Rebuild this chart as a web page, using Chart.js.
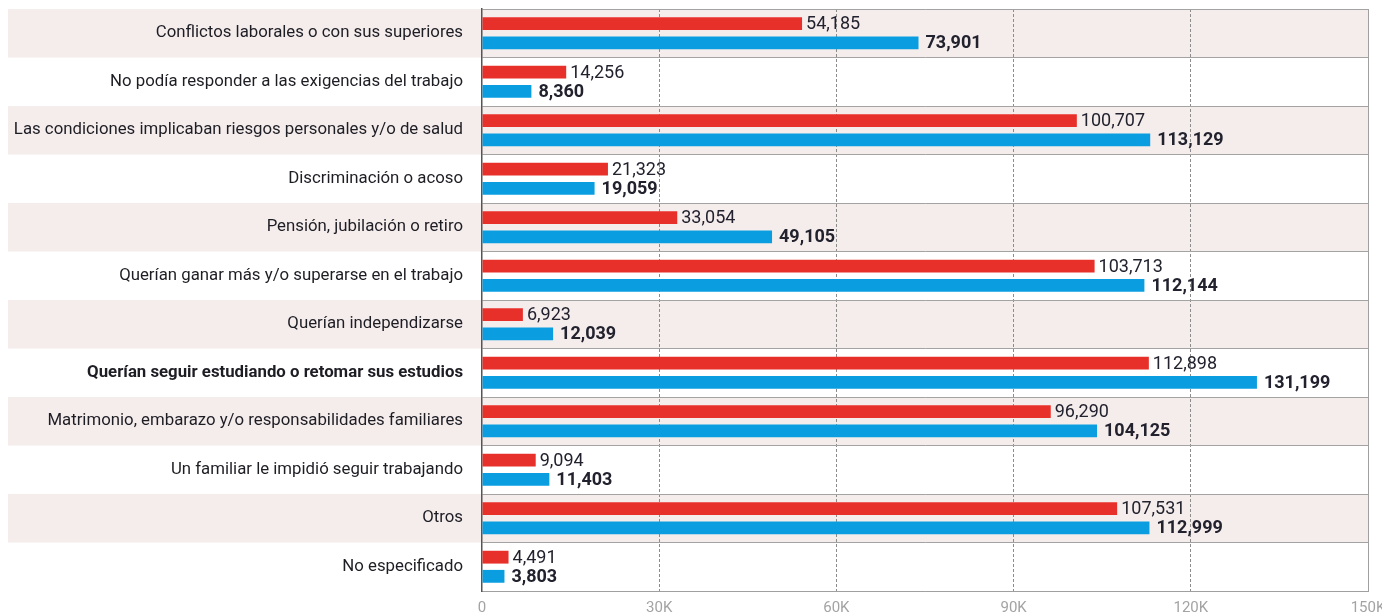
<!DOCTYPE html>
<html>
<head>
<meta charset="utf-8">
<script src="https://cdn.jsdelivr.net/npm/chart.js@4"></script>
<style>
  html, body { margin: 0; padding: 0; background: #fff; }
  #wrap { width: 1382px; height: 614px; position: relative; }
</style>
</head>
<body>
<div id="wrap"><canvas id="grafico"></canvas></div>
<script>
// --- Datos ---
const categorias = [
  'Conflictos laborales o con sus superiores',
  'No podía responder a las exigencias del trabajo',
  'Las condiciones implicaban riesgos personales y/o de salud',
  'Discriminación o acoso',
  'Pensión, jubilación o retiro',
  'Querían ganar más y/o superarse en el trabajo',
  'Querían independizarse',
  'Querían seguir estudiando o retomar sus estudios',
  'Matrimonio, embarazo y/o responsabilidades familiares',
  'Un familiar le impidió seguir trabajando',
  'Otros',
  'No especificado'
];
const valoresRojo = [54185, 14256, 100707, 21323, 33054, 103713, 6923, 112898, 96290, 9094, 107531, 4491];
const valoresAzul = [73901, 8360, 113129, 19059, 49105, 112144, 12039, 131199, 104125, 11403, 112999, 3803];
const ticksX = [0, 30000, 60000, 90000, 120000, 150000];
const etiquetasX = ['0', '30K', '60K', '90K', '120K', '150K'];
const filaDestacada = 7; // etiqueta en negrita

const FUENTE = 'Roboto, "Liberation Sans", sans-serif';

// Fondos alternos de las filas (toda la anchura, también bajo las etiquetas)
const fondoFilas = {
  id: 'fondoFilas',
  beforeDraw(chart) {
    const { ctx, chartArea, scales: { y } } = chart;
    const mitad = Math.abs(y.getPixelForValue(1) - y.getPixelForValue(0)) / 2;
    ctx.save();
    ctx.fillStyle = '#f5ecec';
    categorias.forEach((c, i) => {
      if (i % 2 !== 0) return;
      const yc = y.getPixelForValue(i);
      ctx.fillRect(8, yc - mitad, chartArea.right - 8, mitad * 2);
    });
    ctx.restore();
  },
  afterDraw(chart) {
    // borde derecho del área
    const { ctx, chartArea } = chart;
    ctx.save();
    ctx.strokeStyle = '#a0a0a0';
    ctx.lineWidth = 1;
    ctx.beginPath();
    ctx.moveTo(Math.round(chartArea.right) + 0.5, chartArea.top);
    ctx.lineTo(Math.round(chartArea.right) + 0.5, chartArea.bottom);
    ctx.stroke();
    ctx.restore();
  }
};

// Etiquetas de valor al final de cada barra
const etiquetasValor = {
  id: 'etiquetasValor',
  afterDatasetsDraw(chart) {
    const { ctx } = chart;
    ctx.save();
    ctx.textBaseline = 'middle';
    ctx.textAlign = 'left';
    chart.data.datasets.forEach((ds, di) => {
      const meta = chart.getDatasetMeta(di);
      ctx.font = (di === 1 ? 'bold ' : '') + '18px ' + FUENTE;
      ctx.fillStyle = '#22222e';
      meta.data.forEach((bar, i) => {
        const txt = ds.data[i].toLocaleString('en-US');
        ctx.fillText(txt, bar.x + (di === 1 ? 7 : 4), bar.y + 1);
      });
    });
    ctx.restore();
  }
};

new Chart(document.getElementById('grafico'), {
  type: 'bar',
  data: {
    labels: categorias,
    datasets: [
      {
        label: 'Serie roja',
        data: valoresRojo,
        backgroundColor: '#e8302a',
        categoryPercentage: 0.79,
        barPercentage: 0.67
      },
      {
        label: 'Serie azul',
        data: valoresAzul,
        backgroundColor: '#0a9ee0',
        categoryPercentage: 0.79,
        barPercentage: 0.67
      }
    ]
  },
  options: {
    indexAxis: 'y',
    responsive: true,
    maintainAspectRatio: false,
    animation: false,
    layout: { padding: { top: 9, right: 14, bottom: 0, left: 8 } },
    plugins: {
      legend: { display: false },
      tooltip: { enabled: false }
    },
    scales: {
      x: {
        min: 0,
        max: 150000,
        afterBuildTicks(scale) {
          scale.ticks = ticksX.map(v => ({ value: v }));
        },
        afterFit(scale) {
          scale.height = 23;
          scale.paddingLeft = 0;
          scale.paddingRight = 0;
        },
        grid: {
          color: (ctx) => (ctx.tick && (ctx.tick.value === 0 || ctx.tick.value === 150000)) ? 'rgba(0,0,0,0)' : '#8c8c8c',
          lineWidth: 1,
          drawTicks: false
        },
        border: { display: true, color: '#a0a0a0', width: 1, dash: [3, 2] },
        ticks: {
          padding: 8,
          color: '#a3a3a3',
          font: { family: FUENTE, size: 15 },
          maxRotation: 0,
          callback: (v) => etiquetasX[ticksX.indexOf(v)]
        }
      },
      y: {
        afterFit(scale) {
          scale.width = 474;
          scale.paddingTop = 0;
          scale.paddingBottom = 0;
        },
        grid: {
          offset: true,
          color: '#a3a3a3',
          lineWidth: 1,
          drawTicks: false
        },
        border: { display: true, color: '#555555', width: 1.5 },
        ticks: {
          padding: 19,
          color: '#1d1d24',
          autoSkip: false,
          font: (ctx) => ({
            family: FUENTE,
            size: 16.8,
            weight: ctx.index === filaDestacada ? 'bold' : 'normal'
          })
        }
      }
    }
  },
  plugins: [fondoFilas, etiquetasValor]
});
</script>
</body>
</html>
